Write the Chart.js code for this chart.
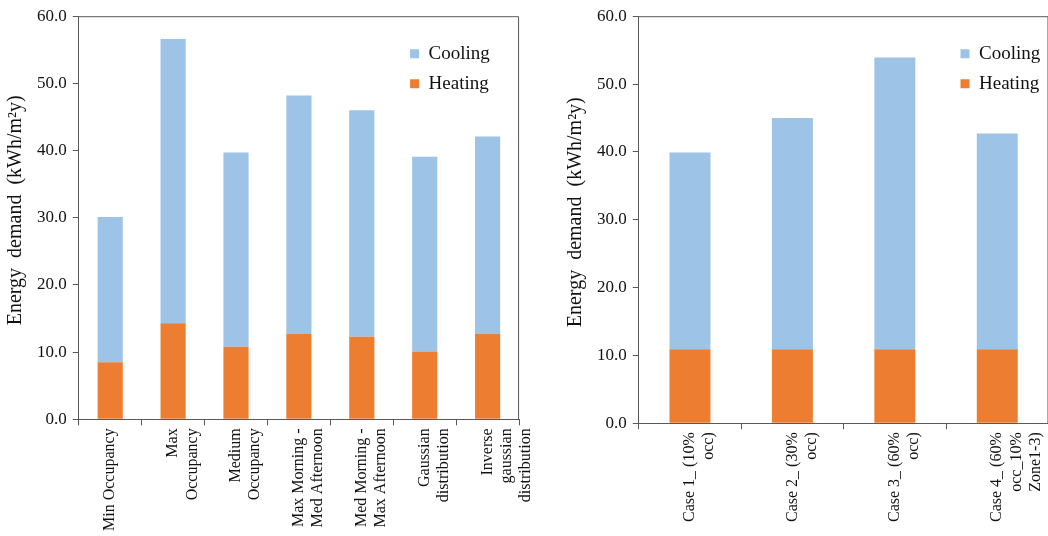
<!DOCTYPE html>
<html>
<head>
<meta charset="utf-8">
<script src="https://cdn.jsdelivr.net/npm/chart.js@4/dist/chart.umd.min.js"></script>
<style>
  body { margin: 0; background: #fff; width: 1048px; height: 536px; overflow: hidden; position: relative; }
  .panel { position: absolute; top: 0; height: 536px; }
</style>
</head>
<body>
<div class="panel" style="left:0;width:549px"><canvas id="profiles"></canvas></div>
<div class="panel" style="left:560px;width:498px"><canvas id="cases"></canvas></div>
<script>
// Dati
const profileLabels = [
  ["Min Occupancy"],
  ["Max", "Occupancy"],
  ["Medium", "Occupancy"],
  ["Max Morning -", "Med Afternoon"],
  ["Med Morning -", "Max Afternoon"],
  ["Gaussian", "distribution"],
  ["Inverse", "gaussian", "distribution"]
];
const profileHeating = [8.5, 14.3, 10.8, 12.7, 12.3, 10.1, 12.7];
const profileCooling = [21.6, 42.3, 28.9, 35.5, 33.7, 29.0, 29.4];

const caseLabels = [
  ["Case 1_ (10%", "occ)"],
  ["Case 2_ (30%", "occ)"],
  ["Case 3_ (60%", "occ)"],
  ["Case 4_ (60%", "occ_10%", "Zone1-3)"]
];
const caseHeating = [10.9, 10.9, 10.9, 10.9];
const caseCooling = [29.0, 34.1, 43.0, 31.8];

const yMin = 0, yMax = 60, yStep = 10;
const axisTitle = "   Energy  demand  (kWh/m\u00B2y)";

const heatColor = "#ED7D31";
const coolColor = "#9DC3E6";
const axisColor = "#595959";
const textColor = "#111";
const fontFamily = "'Liberation Serif', 'Times New Roman', serif";

// Cornice del grafico + legenda dentro l'area
const framePlugin = {
  id: "frame",
  afterLayout(chart, args, opts) {
    const lg = chart.legend, a = chart.chartArea;
    const w = lg.width;
    lg.left = a.right - opts.legendRight;
    lg.right = lg.left + w;
    lg.top = a.top + opts.legendTop;
    lg.bottom = a.bottom;
  },
  afterDraw(chart) {
    const a = chart.chartArea, ctx = chart.ctx;
    ctx.save();
    ctx.strokeStyle = axisColor;
    ctx.lineWidth = 1;
    ctx.beginPath();
    ctx.moveTo(a.left, a.top + 0.5);
    ctx.lineTo(a.right - 0.5, a.top + 0.5);
    ctx.lineTo(a.right - 0.5, a.bottom);
    ctx.stroke();
    ctx.restore();
  }
};

function makeChart(id, labels, heating, cooling, pad, legendRight, legendTop) {
  return new Chart(document.getElementById(id), {
    type: "bar",
    data: {
      labels: labels,
      datasets: [
        { label: "Heating", data: heating, backgroundColor: heatColor, barPercentage: 0.4, categoryPercentage: 1 },
        { label: "Cooling", data: cooling, backgroundColor: coolColor, barPercentage: 0.4, categoryPercentage: 1 }
      ]
    },
    options: {
      responsive: true,
      maintainAspectRatio: false,
      animation: false,
      layout: { padding: pad },
      plugins: {
        tooltip: { enabled: false },
        frame: { legendRight: legendRight, legendTop: legendTop },
        legend: {
          position: "chartArea",
          align: "start",
          reverse: true,
          labels: {
            boxWidth: 9,
            boxHeight: 9,
            padding: 11,
            color: textColor,
            font: { family: fontFamily, size: 19 }
          }
        }
      },
      scales: {
        x: {
          stacked: true,
          border: { color: axisColor, width: 1 },
          grid: { offset: true, drawOnChartArea: false, tickLength: 6, color: axisColor },
          ticks: {
            maxRotation: 90,
            minRotation: 90,
            autoSkip: false,
            padding: 3,
            color: textColor,
            font: { family: fontFamily, size: 16, lineHeight: 1.2 }
          }
        },
        y: {
          stacked: true,
          min: yMin,
          max: yMax,
          border: { color: axisColor, width: 1 },
          grid: { drawOnChartArea: false, tickLength: 6, color: axisColor },
          ticks: {
            stepSize: yStep,
            padding: 6,
            color: textColor,
            font: { family: fontFamily, size: 17 },
            callback: v => v.toFixed(1)
          },
          title: {
            display: true,
            text: axisTitle,
            color: textColor,
            padding: { top: 0, bottom: 3 },
            font: { family: fontFamily, size: 20 }
          }
        }
      }
    },
    plugins: [framePlugin]
  });
}

makeChart("profiles", profileLabels, profileHeating, profileCooling,
  { top: 10, right: 11, bottom: 2, left: 4 }, 120, 17);
makeChart("cases", caseLabels, caseHeating, caseCooling,
  { top: 9, right: 1, bottom: 11, left: 4 }, 99, 17);
</script>
</body>
</html>
